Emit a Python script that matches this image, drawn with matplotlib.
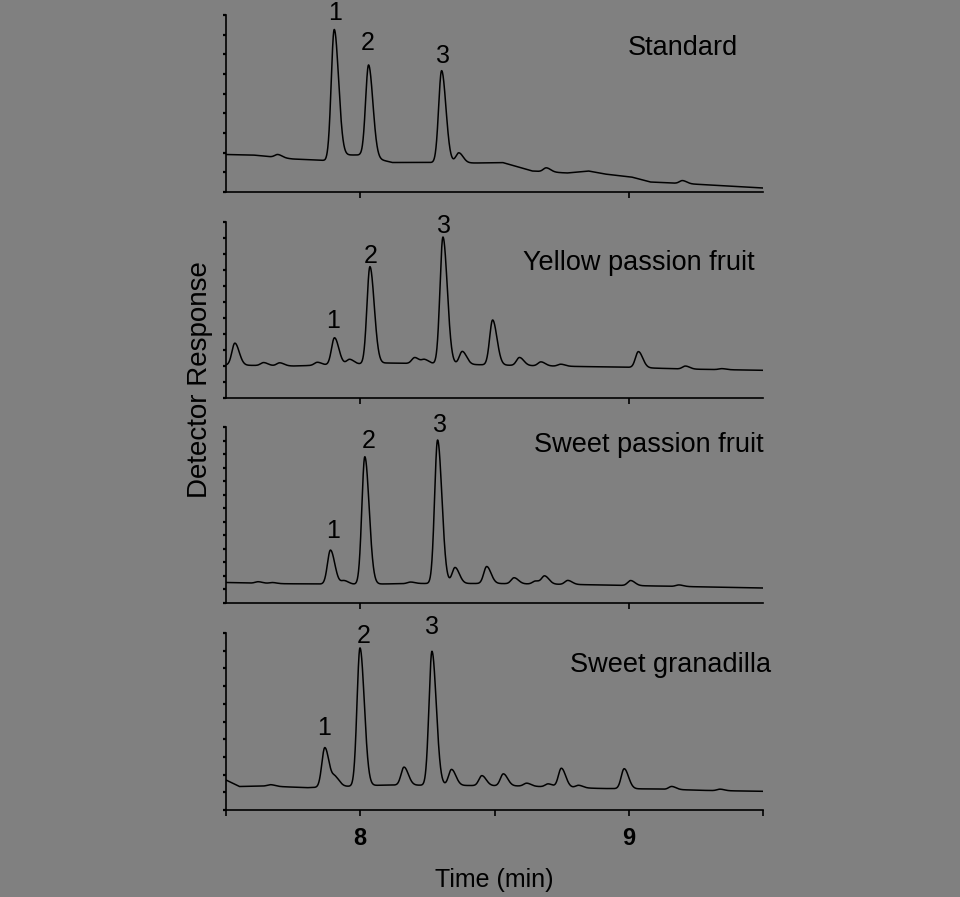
import numpy as np
import matplotlib
matplotlib.use("Agg")
import matplotlib.pyplot as plt

plt.rcParams.update({"font.family": ["Liberation Sans", "DejaVu Sans"]})

BG = "#808080"

# ---- data (time in min, response in arbitrary units) ----
# Standard
std_base_t = [7.50, 7.60, 7.75, 7.87, 7.93, 8.00, 8.12, 8.25, 8.43, 8.53, 8.64, 8.77, 8.85, 8.91, 9.01, 9.08, 9.31, 9.50]
std_base_y = [37.5, 37.0, 33.0, 31.5, 37.0, 37.0, 29.5, 29.5, 29.0, 29.5, 21.0, 19.0, 21.0, 18.0, 15.0, 10.0, 7.0, 4.0]
std_peak_t = [7.693, 7.903, 8.031, 8.303, 8.367, 8.693, 9.200]
std_peak_h = [3.0, 128.0, 92.0, 92.0, 10.0, 4.0, 3.0]
std_num_t = [7.907, 8.027, 8.309]
std_num_y = [179, 149, 136]

# Yellow passion fruit
yel_base_t = [7.50, 7.75, 8.00, 8.10, 8.30, 8.50, 8.70, 9.00, 9.20, 9.50]
yel_base_y = [33.0, 32.0, 34.0, 35.0, 34.0, 33.0, 32.0, 30.7, 29.0, 27.7]
yel_peak_t = [7.533, 7.640, 7.700, 7.840, 7.904, 7.960, 8.036, 8.203, 8.240, 8.308, 8.380,
              8.493, 8.593, 8.673, 8.747, 9.036, 9.211, 9.347]
yel_peak_h = [22.0, 3.0, 3.0, 3.0, 27.0, 5.0, 97.0, 6.0, 4.0, 127.0, 13.0,
              45.0, 8.0, 4.0, 2.0, 16.0, 3.0, 1.0]
yel_num_t = [7.900, 8.040, 8.313]
yel_num_y = [77, 142, 172]

# Sweet passion fruit
swp_base_t = [7.50, 7.70, 8.00, 8.20, 8.50, 8.80, 9.00, 9.20, 9.50]
swp_base_y = [20.5, 19.3, 18.7, 19.5, 19.5, 18.5, 17.5, 16.5, 15.0]
swp_peak_t = [7.620, 7.673, 7.889, 7.940, 8.017, 8.187, 8.288, 8.353, 8.471, 8.573,
              8.653, 8.687, 8.773, 9.007, 9.187]
swp_peak_h = [1.5, 1.0, 34.0, 3.5, 127.5, 1.5, 143.5, 16.0, 17.0, 6.0,
              3.0, 8.0, 4.0, 5.0, 1.5]
swp_num_t = [7.897, 8.031, 8.297]
swp_num_y = [72, 162, 178]

# Sweet granadilla
gra_base_t = [7.50, 7.55, 7.65, 7.80, 8.10, 8.40, 8.60, 8.90, 9.10, 9.30, 9.50]
gra_base_y = [30.0, 23.5, 24.0, 22.3, 25.0, 24.5, 24.0, 21.5, 21.0, 19.5, 18.7]
gra_peak_t = [7.667, 7.868, 7.907, 7.999, 8.163, 8.267, 8.340, 8.453, 8.533, 8.620,
              8.700, 8.749, 8.813, 8.983, 9.160, 9.340]
gra_peak_h = [1.5, 39.5, 9.0, 138.0, 18.0, 134.0, 16.0, 10.0, 12.0, 3.0,
              3.0, 19.0, 2.5, 20.0, 3.0, 1.5]
gra_num_t = [7.867, 8.011, 8.269]
gra_num_y = [82, 174, 183]

names = ["Standard", "Yellow passion fruit", "Sweet passion fruit", "Sweet granadilla"]
name_t = [9.20, 9.037, 9.075, 9.157]
name_y = [144, 135, 158, 145]

panels = [
    (std_base_t, std_base_y, std_peak_t, std_peak_h, std_num_t, std_num_y),
    (yel_base_t, yel_base_y, yel_peak_t, yel_peak_h, yel_num_t, yel_num_y),
    (swp_base_t, swp_base_y, swp_peak_t, swp_peak_h, swp_num_t, swp_num_y),
    (gra_base_t, gra_base_y, gra_peak_t, gra_peak_h, gra_num_t, gra_num_y),
]

# layout (pixels from top) and number of small y ticks per panel
W, H = 960, 897
boxes = [(15, 192), (222, 398), (427, 603), (633, 810)]
n_yticks = [10, 12, 14, 11]
left, right = 226 / W, 763 / W

t = np.linspace(7.5, 9.5, 4001)


def trace(base_t, base_y, peak_t, peak_h):
    y = np.interp(t, base_t, base_y)
    for pt, ph in zip(peak_t, peak_h):
        sig = np.where(t < pt, 0.011, 0.016)
        y = y + ph * np.exp(-0.5 * ((t - pt) / sig) ** 2)
    return y


fig = plt.figure(figsize=(9.6, 8.97), dpi=100, facecolor=BG)

for k, ((bt, by, pt, ph, nt, ny), (top, bot)) in enumerate(zip(panels, boxes)):
    ax = fig.add_axes([left, 1 - bot / H, right - left, (bot - top) / H])
    ymax = bot - top
    ax.plot(t, trace(bt, by, pt, ph), color="black", lw=1.1)
    ax.set_xlim(7.5, 9.5)
    ax.set_ylim(0, ymax)
    for s in ("top", "right"):
        ax.spines[s].set_visible(False)
    for s in ("left", "bottom"):
        ax.spines[s].set_linewidth(1.2)
    ax.set_yticks(np.linspace(0, ymax, n_yticks[k]))
    ax.set_yticklabels([])
    ax.tick_params(axis="y", direction="out", length=2.5, width=1.6)
    if k < 3:
        ax.set_xticks([8, 9])
        ax.set_xticklabels([])
    else:
        ax.set_xticks([7.5, 8, 8.5, 9, 9.5])
        ax.set_xticklabels(["", "8", "", "9", ""], fontsize=17, fontweight="bold")
    ax.tick_params(axis="x", direction="out", length=4.5, width=1.2, pad=8)
    ax.patch.set_alpha(0)

    for i, (xt, yt) in enumerate(zip(nt, ny)):
        ax.text(xt, yt, str(i + 1), ha="center", va="center", fontsize=18, clip_on=False)
    ax.text(name_t[k], name_y[k], names[k], ha="center", va="center", fontsize=19.5)

fig.text(200 / W, 1 - 380 / H, "Detector Response", rotation=90,
         ha="center", va="center", fontsize=20)
fig.text(494 / W, 1 - 880 / H, "Time (min)", ha="center", va="center", fontsize=18)

fig.savefig("out.png", dpi=100, facecolor=BG)
